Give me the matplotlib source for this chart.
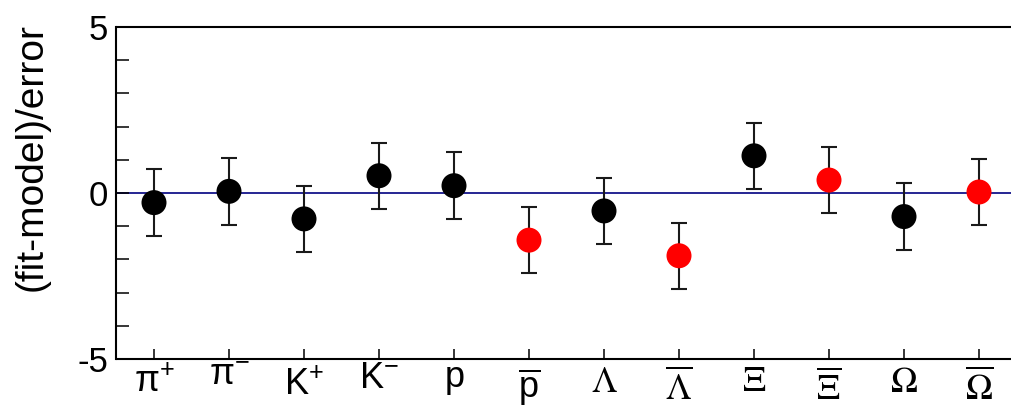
import matplotlib
matplotlib.use("Agg")
import matplotlib.pyplot as plt
import numpy as np

# ---- data ----
labels = [r'$\mathrm{\pi}^{+}$', r'$\mathrm{\pi}^{-}$', r'$\mathrm{K}^{+}$', r'$\mathrm{K}^{-}$',
          r'$\mathrm{p}$', r'$\overline{\mathrm{p}}$',
          r'$\Lambda$', r'$\overline{\Lambda}$', r'$\Xi$', r'$\overline{\Xi}$',
          r'$\Omega$', r'$\overline{\Omega}$']
serif_label = [False, False, False, False, False, False, True, True, True, True, True, True]
values = [-0.29, 0.05, -0.78, 0.52, 0.22, -1.42, -0.54, -1.89, 1.12, 0.39, -0.71, 0.03]
errors = [1.0, 1.0, 1.0, 1.0, 1.0, 1.0, 1.0, 1.0, 1.0, 1.0, 1.0, 1.0]
point_colors = ['black', 'black', 'black', 'black', 'black', 'red',
                'black', 'red', 'black', 'red', 'black', 'red']
# label baseline offsets below the axis (pixels) - style
label_drop_px = [33, 26, 36, 29, 28, 39, 33, 41, 32, 41, 33, 41]

plt.rcParams['font.family'] = ['Liberation Sans', 'DejaVu Sans']
plt.rcParams['mathtext.fontset'] = 'custom'
plt.rcParams['mathtext.rm'] = 'Liberation Sans'
plt.rcParams['mathtext.it'] = 'Liberation Sans:italic'
plt.rcParams['mathtext.bf'] = 'Liberation Sans:bold'

W, H = 1012, 408
fig = plt.figure(figsize=(W / 100, H / 100), dpi=100)
left, right, top, bottom = 116.5, 1016.5, 27, 359
ax = fig.add_axes([left / W, 1 - bottom / H, (right - left) / W, (bottom - top) / H])

x = np.arange(1, len(values) + 1)
ax.set_xlim(0.5, len(values) + 0.5)
ax.set_ylim(-5, 5)

ax.axhline(0, color='#000080', lw=1.2, zorder=1)
ax.errorbar(x, values, yerr=errors, fmt='none', ecolor='#1a1a1a', elinewidth=1.5,
            capsize=5.5, capthick=1.5, zorder=2)
ax.scatter(x, values, c=point_colors, s=18 ** 2, zorder=3, edgecolors='none')

ax.spines['right'].set_visible(False)
for s in ['left', 'bottom', 'top']:
    ax.spines[s].set_linewidth(1.5)

ax.set_yticks([-5, 0, 5])
ax.set_yticklabels(['-5', '0', '5'])
ax.set_yticks(np.arange(-5, 6, 1), minor=True)
ax.tick_params(axis='y', which='both', direction='in', length=9.4, width=1.1,
               labelsize=25, pad=6)
ax.set_xticks(x)
ax.set_xticklabels([])
ax.tick_params(axis='x', which='both', direction='in', length=7.2, width=1.1)
ax.tick_params(axis='x', which='minor', bottom=False)

for xi, lab, ser, drop in zip(x, labels, serif_label, label_drop_px):
    ax.annotate(lab, xy=(xi, 0), xycoords=ax.get_xaxis_transform(),
                xytext=(0, -drop * 0.72), textcoords='offset points',
                ha='center', va='baseline',
                fontsize=26 if ser else 26,
                math_fontfamily='stix' if ser else 'custom')

ax.set_ylabel('(fit-model)/error', fontsize=28)
ax.yaxis.set_label_coords(-67 / (right - left), (bottom - 157) / (bottom - top))

fig.savefig('out.png', dpi=100)
